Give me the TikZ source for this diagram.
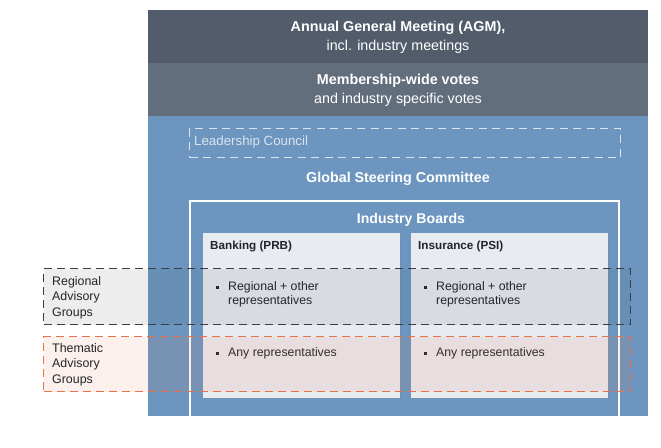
\documentclass[tikz,border=0pt]{standalone}
\usepackage{fontspec}
\setmainfont{Liberation Sans}
\usetikzlibrary{shadows}
\definecolor{agmcol}{HTML}{525C6B}
\definecolor{votecol}{HTML}{636E7D}
\definecolor{bluecol}{HTML}{6C96C0}
\definecolor{cardcol}{HTML}{E8EBF0}
\definecolor{txtdark}{HTML}{212529}
\definecolor{leadcol}{HTML}{DCE3ED}
\definecolor{orangecol}{HTML}{E8734A}
\definecolor{graycol}{HTML}{3A3F46}
\tikzset{
  band/.style={fill=#1, draw=none, inner sep=0, anchor=north west, minimum width=500pt},
  titletxt/.style={text=white, align=center, font=\fontsize{14.3}{18.5}\selectfont},
  card/.style={fill=cardcol, draw=none, inner sep=0, anchor=north west, minimum width=197pt, minimum height=165pt,
     drop shadow={opacity=0.25, shadow xshift=0.8pt, shadow yshift=-0.8pt}},
  cardhead/.style={anchor=west, inner sep=0, text=txtdark, font=\bfseries\fontsize{11.7}{14}\selectfont},
  bullettxt/.style={anchor=west, inner sep=0, align=left, text=txtdark, font=\fontsize{12.3}{14.5}\selectfont},
  bulletmark/.style={fill=txtdark, draw=none, inner sep=0, minimum size=3pt},
  advbox/.style={anchor=north west, inner sep=0, minimum width=587pt, line width=1.4pt, dash pattern=on 8pt off 5pt},
  advtxt/.style={anchor=west, inner sep=0, align=left, text=txtdark, font=\fontsize{12.4}{15.5}\selectfont},
}
\begin{document}
\begin{tikzpicture}[x=1pt,y=-1pt]
\useasboundingbox[fill=white] (0,0) rectangle (661,447);
% bands
\node[band=agmcol, minimum height=53pt] (agm) at (148,10) {};
\node[band=votecol, minimum height=53pt] (votes) at (148,63) {};
\node[band=bluecol, minimum height=300pt] (blue) at (148,116) {};
\node[titletxt] (agmtxt) at (398,37.5) {\textbf{Annual General Meeting (AGM),}\\incl. industry meetings};
\node[titletxt] (votetxt) at (398,90.5) {\textbf{Membership-wide votes}\\and industry specific votes};
% leadership council
\node[draw=leadcol, line width=1.4pt, dash pattern=on 8pt off 5.5pt, anchor=north west, inner sep=0,
      minimum width=431pt, minimum height=29pt] (lead) at (189,128) {};
\node[anchor=west, inner sep=0, text=leadcol, font=\fontsize{13.3}{15}\selectfont] (leadtxt) at (194,142.5) {Leadership Council};
\node[titletxt, font=\bfseries\fontsize{14.3}{17}\selectfont] (gsc) at (398,178.5) {Global Steering Committee};
% industry boards frame
\coordinate (ibbl) at (190,416);
\coordinate (ibtl) at (190,201);
\coordinate (ibtr) at (619,201);
\coordinate (ibbr) at (619,416);
\draw[white, line width=1.8pt] (ibbl) -- (ibtl) -- (ibtr) -- (ibbr);
\node[titletxt, font=\bfseries\fontsize{14.1}{17}\selectfont] (ib) at (411,219.5) {Industry Boards};
% cards
\node[card] (bank) at (203,233) {};
\node[card] (ins) at (411,233) {};
\node[cardhead] (bankh) at (210,246.5) {Banking (PRB)};
\node[cardhead] (insh) at (418,246.5) {Insurance (PSI)};
\node[bulletmark] (b1) at (217.5,287.5) {};
\node[bullettxt] (bt1) at (228,294.5) {Regional + other\\representatives};
\node[bulletmark] (b2) at (217.5,353.5) {};
\node[bullettxt] (bt2) at (228,353.5) {Any representatives};
\node[bulletmark] (b3) at (425.5,287.5) {};
\node[bullettxt] (bt3) at (436,294.5) {Regional + other\\representatives};
\node[bulletmark] (b4) at (425.5,353.5) {};
\node[bullettxt] (bt4) at (436,353.5) {Any representatives};
% advisory groups
\node[advbox, draw=graycol, fill=graycol, fill opacity=0.09, minimum height=56pt] (reg) at (43,268) {};
\node[advbox, draw=orangecol, fill=orangecol, fill opacity=0.1, minimum height=55pt] (them) at (43,336) {};
\node[advtxt] (regtxt) at (52,297.5) {Regional\\Advisory\\Groups};
\node[advtxt] (themtxt) at (52,364.5) {Thematic\\Advisory\\Groups};
\end{tikzpicture}
\end{document}
